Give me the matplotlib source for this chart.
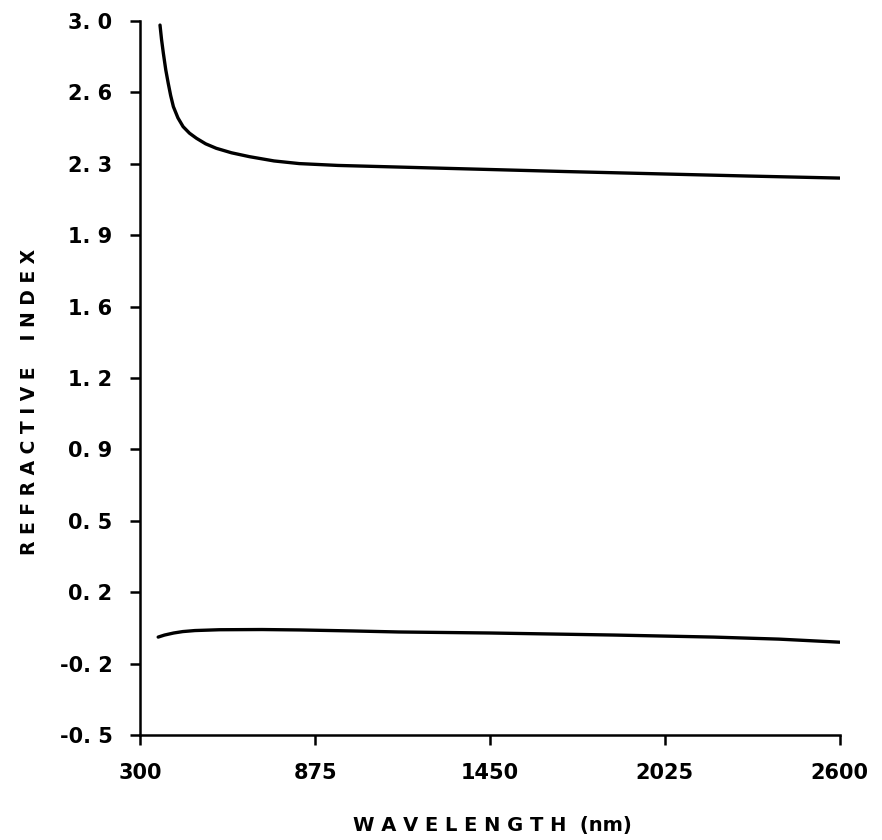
import matplotlib
matplotlib.use("Agg")
import matplotlib.pyplot as plt
import numpy as np

wl_n = [365, 370, 376, 384, 392, 400, 409, 424, 441, 462, 485, 515, 550,
        600, 659, 740, 823, 950, 1100, 1300, 1450, 1700, 2025, 2300, 2600]
n_vals = [2.98, 2.91, 2.842, 2.76, 2.695, 2.635, 2.58, 2.525, 2.482, 2.45,
          2.425, 2.398, 2.376, 2.354, 2.335, 2.314, 2.301, 2.292, 2.286,
          2.278, 2.272, 2.262, 2.25, 2.24, 2.23]

# lower curve
wl_k = [359, 380, 410, 440, 480, 560, 700, 823, 1000, 1150, 1450, 1858,
        2185, 2400, 2600]
k_vals = [-0.02, -0.01, 0.0, 0.007, 0.012, 0.016, 0.017, 0.015, 0.01, 0.005,
          0.0, -0.01, -0.02, -0.03, -0.045]

x_ticks = [300, 875, 1450, 2025, 2600]
y_ticks = list(np.linspace(-0.5, 3.0, 11))
y_labels = ["-0. 5", "-0. 2", "0. 2", "0. 5", "0. 9", "1. 2", "1. 6", "1. 9",
            "2. 3", "2. 6", "3. 0"]

plt.rcParams['font.family'] = ['DejaVu Sans']

fig = plt.figure(figsize=(8.82, 8.4), dpi=100)
ax = fig.add_axes([0.159, 0.125, 0.793, 0.850])

ax.plot(wl_n, n_vals, color='black', lw=2.4, solid_capstyle='round',
        solid_joinstyle='round')
ax.plot(wl_k, k_vals, color='black', lw=2.4, solid_capstyle='round',
        solid_joinstyle='round')

ax.set_xlim(300, 2600)
ax.set_ylim(-0.5, 3.0)
ax.set_xticks(x_ticks)
ax.set_xticklabels([str(t) for t in x_ticks])
ax.set_yticks(y_ticks)
ax.set_yticklabels(y_labels)

for s in ['top', 'right']:
    ax.spines[s].set_visible(False)
for s in ['left', 'bottom']:
    ax.spines[s].set_linewidth(1.8)

ax.tick_params(axis='both', direction='out', length=7, width=1.8,
               labelsize=15, pad=13)
for lab in ax.get_xticklabels() + ax.get_yticklabels():
    lab.set_fontweight('bold')

fig.text(492 / 882, 1 - 826 / 840, "W A V E L E N G T H  (nm)", fontsize=14,
         fontweight='bold', ha='center', va='center')
fig.text(30 / 882, 1 - 402 / 840, "R E F R A C T I V E    I N D E X",
         fontsize=13.5, fontweight='bold', ha='center', va='center',
         rotation=90)

fig.savefig("out.png", dpi=100)
